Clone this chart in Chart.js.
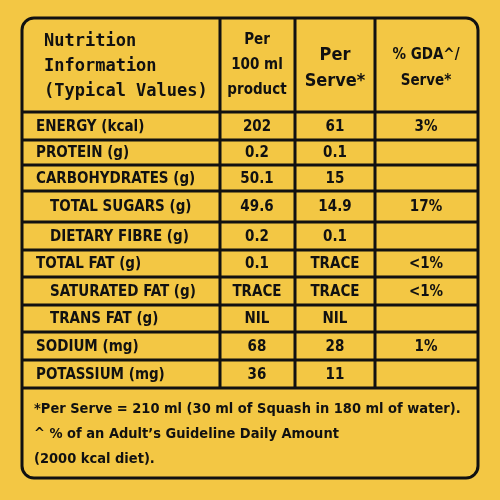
<!DOCTYPE html>
<html><head><meta charset="utf-8">
<script src="https://cdn.jsdelivr.net/npm/chart.js@4/dist/chart.umd.min.js"></script>
<style>html,body{margin:0;padding:0;background:#F3C744}</style>
</head><body>
<canvas id="c" width="500" height="500"></canvas>
<script>
const headerLeft = ["Nutrition", "Information", "(Typical Values)"];
const headerPer100 = ["Per", "100 ml", "product"];
const headerServe = ["Per", "Serve*"];
const headerGda = ["% GDA^/", "Serve*"];
const nutrients = ["ENERGY (kcal)","PROTEIN (g)","CARBOHYDRATES (g)","TOTAL SUGARS (g)","DIETARY FIBRE (g)","TOTAL FAT (g)","SATURATED FAT (g)","TRANS FAT (g)","SODIUM (mg)","POTASSIUM (mg)"];
const indented = [false,false,false,true,true,false,true,true,false,false];
const per100 = ["202","0.2","50.1","49.6","0.2","0.1","TRACE","NIL","68","36"];
const perServe = ["61","0.1","15","14.9","0.1","TRACE","TRACE","NIL","28","11"];
const gda = ["3%","","","17%","","<1%","<1%","","1%",""];
const footnotes = ["*Per Serve = 210 ml (30 ml of Squash in 180 ml of water).","^ % of an Adult’s Guideline Daily Amount","(2000 kcal diet)."];

// layout (pixel-space values on a 0..500 linear scale)
const colEdges = [22,220,295,375,478];
const rowEdges = [112,140,165,191,222,250,277,305,332,360,388];
const F = "'DejaVu Sans Condensed','Liberation Sans Narrow',sans-serif";

const tablePlugin = {
  id:'table',
  afterDraw(chart){
    const ctx = chart.ctx, xs = chart.scales.x, ys = chart.scales.y;
    const X = v => xs.getPixelForValue(v), Y = v => ys.getPixelForValue(v);
    ctx.save();
    ctx.fillStyle = '#F3C744'; ctx.fillRect(0,0,500,500);
    ctx.strokeStyle = '#111'; ctx.lineWidth = 3;
    ctx.beginPath(); ctx.roundRect(X(22),Y(18),X(478)-X(22),Y(478)-Y(18),12); ctx.stroke();
    ctx.beginPath();
    for (const r of rowEdges){ ctx.moveTo(X(22),Y(r)); ctx.lineTo(X(478),Y(r)); }
    for (let i=1;i<4;i++){ ctx.moveTo(X(colEdges[i]),Y(18)); ctx.lineTo(X(colEdges[i]),Y(388)); }
    ctx.stroke();
    ctx.fillStyle = '#111'; ctx.textBaseline = 'middle';
    ctx.font = "bold 17px 'DejaVu Sans Mono',monospace"; ctx.textAlign='left';
    headerLeft.forEach((t,i)=>ctx.fillText(t,X(44),Y(42+i*25)));
    ctx.textAlign='center';
    ctx.font = "bold 15px "+F;
    headerPer100.forEach((t,i)=>ctx.fillText(t,X(257),Y(40+i*25)));
    ctx.font = "bold 18px "+F;
    headerServe.forEach((t,i)=>ctx.fillText(t,X(335),Y(55+i*26)));
    ctx.font = "bold 15px "+F;
    headerGda.forEach((t,i)=>ctx.fillText(t,X(426),Y(55+i*26)));
    ctx.font = "bold 15px "+F;
    nutrients.forEach((n,i)=>{
      const yc = Y((rowEdges[i]+rowEdges[i+1])/2+1);
      ctx.textAlign='left'; ctx.fillText(n,X(indented[i]?50:36),yc);
      ctx.textAlign='center';
      ctx.fillText(per100[i],X(257),yc);
      ctx.fillText(perServe[i],X(335),yc);
      ctx.fillText(gda[i],X(426),yc);
    });
    ctx.textAlign='left'; ctx.font = "bold 14.5px "+F;
    footnotes.forEach((t,i)=>ctx.fillText(t,X(34),Y(409+i*25)));
    ctx.restore();
  }
};

new Chart(document.getElementById('c'),{
  type:'scatter',
  data:{datasets:[{data:[]}]},
  options:{responsive:false,animation:false,
    layout:{padding:0},
    plugins:{legend:{display:false},tooltip:{enabled:false}},
    scales:{x:{type:'linear',min:0,max:500,display:false},
            y:{type:'linear',min:0,max:500,reverse:true,display:false}}},
  plugins:[tablePlugin]
});
</script></body></html>
